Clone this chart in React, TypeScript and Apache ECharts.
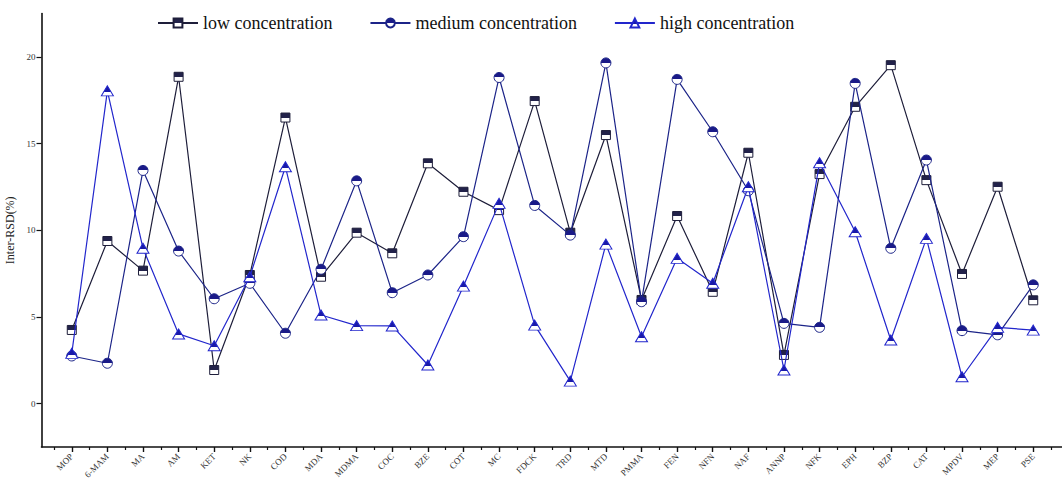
import React, { useEffect, useRef } from "react";
import * as echarts from "echarts";

const categories = [
  "MOP", "6-MAM", "MA", "AM", "KET", "NK", "COD", "MDA", "MDMA", "COC",
  "BZE", "COT", "MC", "FDCK", "TRD", "MTD", "PMMA", "FEN", "NFN", "NAF",
  "ANNP", "NFK", "EPH", "BZP", "CAT", "MPDV", "MEP", "PSE",
];

const lowValues = [
  4.25, 9.38, 7.67, 18.85, 1.94, 7.42, 16.5, 7.32, 9.86, 8.67,
  13.86, 12.22, 11.16, 17.45, 9.86, 15.49, 5.98, 10.82, 6.45, 14.47,
  2.81, 13.24, 17.12, 19.52, 12.89, 7.48, 12.51, 5.96,
];

const mediumValues = [
  2.75, 2.33, 13.45, 8.8, 6.05, 6.94, 4.06, 7.75, 12.85, 6.4,
  7.42, 9.63, 18.81, 11.43, 9.72, 19.65, 5.88, 18.7, 15.68, 12.28,
  4.63, 4.4, 18.47, 8.96, 14.05, 4.21, 3.97, 6.85,
];

const highValues = [
  2.9, 18.04, 8.96, 4.02, 3.34, 7.32, 13.66, 5.11, 4.5, 4.48,
  2.23, 6.78, 11.55, 4.53, 1.3, 9.2, 3.86, 8.38, 6.94, 12.51,
  1.94, 13.89, 9.91, 3.67, 9.53, 1.55, 4.4, 4.24,
];

const yTicks = [0, 5, 10, 15, 20];

const seriesNames = ["low concentration", "medium concentration", "high concentration"];

const halfFill = (top: string, stop: number) =>
  new echarts.graphic.LinearGradient(0, 0, 0, 1, [
    { offset: 0, color: top },
    { offset: stop, color: top },
    { offset: stop, color: "#ffffff" },
    { offset: 1, color: "#ffffff" },
  ]);

export default function App() {
  const ref = useRef<HTMLDivElement>(null);

  useEffect(() => {
    if (!ref.current) return;
    const chart = echarts.init(ref.current, undefined, { renderer: "svg" });

    const lowColor = "#1e1e3a";
    const medColor = "#1c2488";
    const highColor = "#2226cc";
    const serif = "'Liberation Serif', 'Times New Roman', serif";

    const toPairs = (vals: number[]) => categories.map((_, i) => [i, vals[i]]);
    const majorX = categories.map((_, i) => i);
    const minorX = [-0.5, ...categories.map((_, i) => i + 0.5)];

    chart.setOption({
      animation: false,
      backgroundColor: "#ffffff",
      legend: {
        left: 157,
        top: 14,
        padding: 0,
        itemWidth: 40,
        itemHeight: 11,
        itemGap: 37,
        textStyle: { fontFamily: serif, fontSize: 18, color: "#111" },
        data: seriesNames,
      },
      grid: {
        left: 41.5,
        top: 13.5,
        width: 1022,
        height: 433.5,
        containLabel: false,
        outerBoundsMode: "none",
      },
      xAxis: [
        {
          type: "value",
          min: -0.85,
          max: 27.85,
          position: "bottom",
          splitLine: { show: false },
          axisLine: { show: true, onZero: false, lineStyle: { color: "#111", width: 1.6 } },
          axisTick: { show: true, customValues: majorX, length: 5, lineStyle: { color: "#111", width: 1.4 } },
          axisLabel: {
            customValues: majorX,
            formatter: (v: number) => categories[Math.round(v)] ?? "",
            rotate: 45,
            margin: 8,
            fontFamily: serif,
            fontSize: 9,
            color: "#333",
          },
        },
        {
          type: "value",
          min: -0.85,
          max: 27.85,
          position: "bottom",
          splitLine: { show: false },
          axisLine: { show: false, onZero: false },
          axisTick: { show: true, customValues: minorX, length: 3, lineStyle: { color: "#111", width: 1.2 } },
          axisLabel: { show: false },
        },
      ],
      yAxis: {
        type: "value",
        min: -2.5,
        max: 22.5,
        name: "Inter-RSD(%)",
        nameLocation: "middle",
        nameGap: 16,
        nameTextStyle: { fontFamily: serif, fontSize: 12, color: "#222" },
        splitLine: { show: false },
        axisLine: { show: true, onZero: false, lineStyle: { color: "#111", width: 1.6 } },
        axisTick: { show: true, customValues: yTicks, length: 5, lineStyle: { color: "#111", width: 1.2 } },
        axisLabel: {
          customValues: yTicks,
          fontFamily: serif,
          fontSize: 9,
          color: "#333",
          margin: 6,
        },
      },
      series: [
        {
          name: seriesNames[0],
          type: "line",
          xAxisIndex: 0,
          data: toPairs(lowValues),
          symbol: "rect",
          symbolSize: 9,
          lineStyle: { color: lowColor, width: 1.2 },
          itemStyle: { color: halfFill("#22224a", 0.5), borderColor: lowColor, borderWidth: 1 },
          z: 2,
        },
        {
          name: seriesNames[1],
          type: "line",
          xAxisIndex: 0,
          data: toPairs(mediumValues),
          symbol: "circle",
          symbolSize: 10,
          lineStyle: { color: medColor, width: 1.2 },
          itemStyle: { color: halfFill("#1a1a88", 0.5), borderColor: medColor, borderWidth: 1 },
          z: 3,
        },
        {
          name: seriesNames[2],
          type: "line",
          xAxisIndex: 0,
          data: toPairs(highValues),
          symbol: "triangle",
          symbolSize: [12, 10],
          lineStyle: { color: highColor, width: 1.2 },
          itemStyle: { color: halfFill("#1a1aa8", 0.62), borderColor: highColor, borderWidth: 1 },
          z: 4,
        },
      ],
    });

    return () => chart.dispose();
  }, []);

  return (
    <div
      ref={ref}
      style={{ position: "absolute", left: 0, top: 0, width: 1062, height: 479, background: "#fff" }}
    />
  );
}
